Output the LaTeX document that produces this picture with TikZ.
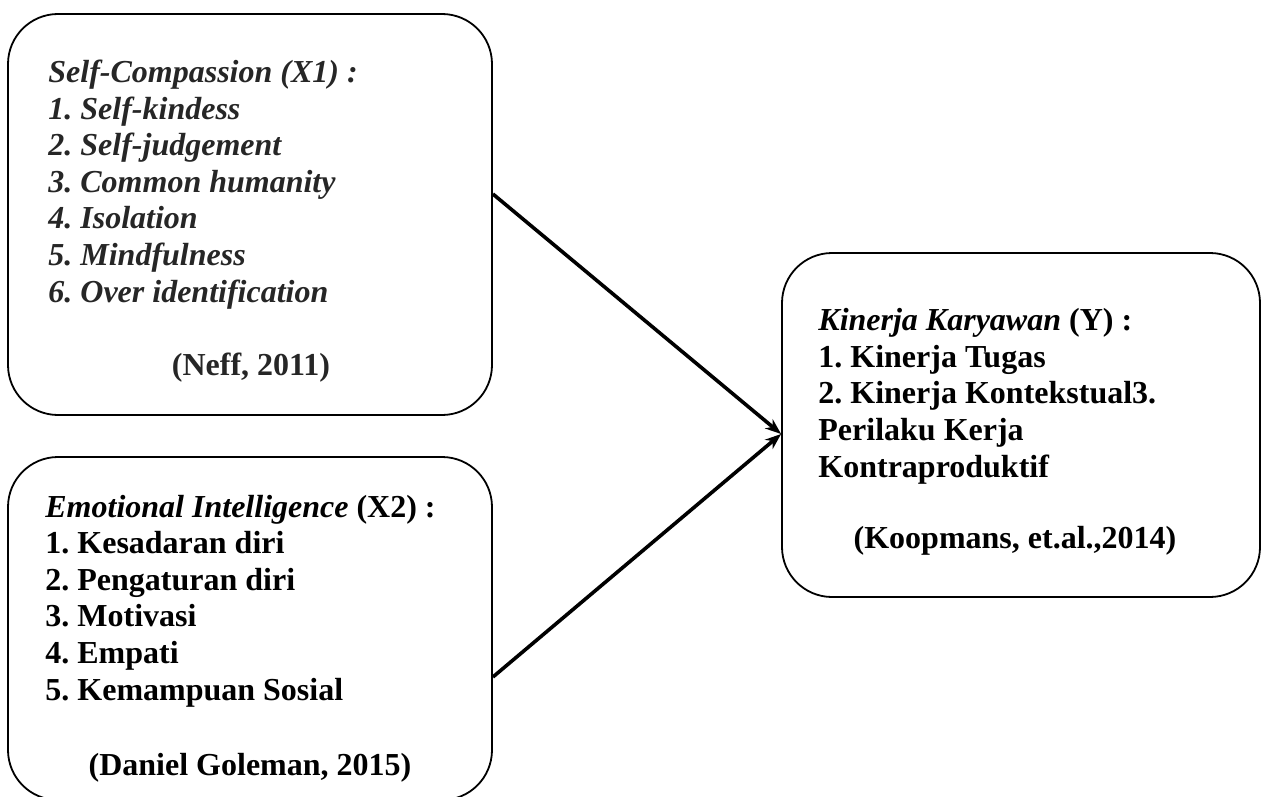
\documentclass[tikz,border=0pt]{standalone}
\usepackage{fontspec}
\setmainfont{Liberation Serif}
\usetikzlibrary{calc,arrows.meta}
\definecolor{sctext}{HTML}{262626}
\frenchspacing
\begin{document}
\begin{tikzpicture}[x=0.5pt, y=-0.5pt,
  varbox/.style={draw, line width=0.9pt, rounded corners=25pt, inner sep=0pt},
  itemlist/.style={anchor=base west, align=left, inner sep=0pt, font=\fontsize{16}{18.3}\selectfont\bfseries},
  cite/.style={anchor=base, inner sep=0pt, font=\fontsize{16}{18.3}\selectfont\bfseries},
  link/.style={-{Stealth[length=8pt, width=6pt, inset=2.5pt]}, line width=1.8pt}]
\useasboundingbox (0,0) rectangle (1268,797);
\node[varbox, minimum width=242pt, minimum height=200.5pt] (sc) at (250,214.5) {};
\node[varbox, minimum width=242pt, minimum height=171.5pt] (ei) at (250,628.5) {};
\node[varbox, minimum width=239pt, minimum height=172pt] (kk) at (1021,425) {};
% lists are anchored at the baseline of their last line
\node[itemlist, text=sctext, font=\fontsize{16}{18.3}\selectfont\bfseries\itshape] (sclist) at (48,302) {Self-Compassion (X1) :\\1. Self-kindess\\2. Self-judgement\\3. Common humanity\\4. Isolation\\5. Mindfulness\\6. Over identification};
\node[cite, text=sctext] (sccite) at (251,375) {(Neff, 2011)};
\node[itemlist] (eilist) at (45,700) {\textit{Emotional Intelligence} (X2) :\\1. Kesadaran diri\\2. Pengaturan diri\\3. Motivasi\\4. Empati\\5. Kemampuan Sosial};
\node[cite] (eicite) at (250,775) {(Daniel Goleman, 2015)};
\node[itemlist] (kklist) at (818,477) {\textit{Kinerja Karyawan} (Y) :\\1. Kinerja Tugas\\2. Kinerja Kontekstual3.\\Perilaku Kerja\\Kontraproduktif};
\node[cite] (kkcite) at (1015,548) {(Koopmans, et.al.,2014)};
\coordinate (scout) at ($(sc.east)+(0,-20.5)$);
\coordinate (eiout) at ($(ei.east)+(0,48.5)$);
\coordinate (kkin) at ($(kk.west)+(0,9)$);
\draw[link] (scout) -- (kkin);
\draw[link] (eiout) -- (kkin);
\end{tikzpicture}
\end{document}
